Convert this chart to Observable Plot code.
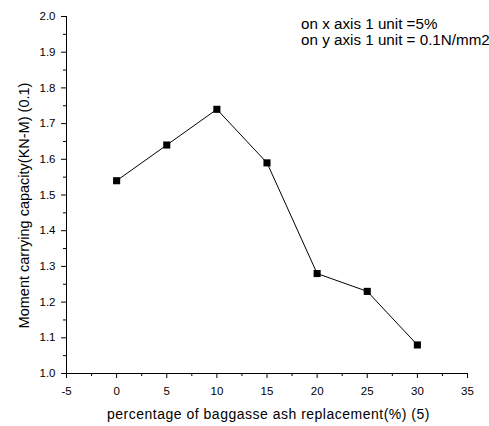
<!DOCTYPE html>
<html>
<head>
<meta charset="utf-8">
<script src="https://cdn.jsdelivr.net/npm/d3@7"></script>
<script src="https://cdn.jsdelivr.net/npm/@observablehq/plot@0.6"></script>
<style>
  html, body { margin: 0; padding: 0; background: #fff; }
  svg { font-family: Arial, "Liberation Sans", sans-serif; }
</style>
</head>
<body>
<div id="chart"></div>
<script>
const replacement = [0, 5, 10, 15, 20, 25, 30];
const capacity = [1.54, 1.64, 1.74, 1.59, 1.28, 1.23, 1.08];
const xTicks = [-5, 0, 5, 10, 15, 20, 25, 30, 35];
const xMinor = [-2.5, 2.5, 7.5, 12.5, 17.5, 22.5, 27.5, 32.5];
const yTicks = [1.0, 1.1, 1.2, 1.3, 1.4, 1.5, 1.6, 1.7, 1.8, 1.9, 2.0];
const yMinor = [1.05, 1.15, 1.25, 1.35, 1.45, 1.55, 1.65, 1.75, 1.85, 1.95];
const notes = ["on x axis 1 unit =5%", "on y axis 1 unit = 0.1N/mm2"];
const xLabel = "percentage of baggasse ash replacement(%) (5)";
const yLabel = "Moment carrying capacity(KN-M) (0.1)";

const data = replacement.map((x, i) => ({x, y: capacity[i]}));

const chart = Plot.plot({
  width: 489,
  height: 426,
  marginLeft: 66,
  marginRight: 22,
  marginTop: 16,
  marginBottom: 53,
  style: {fontFamily: "Arial, 'Liberation Sans', sans-serif", fontSize: "11px", color: "#000", background: "#fff"},
  x: {domain: [-5, 35]},
  y: {domain: [1.0, 2.0]},
  marks: [
    Plot.axisX({ticks: xTicks, tickSize: 5, tickPadding: 8, tickFormat: d => String(d), fontSize: 11.5, label: null}),
    Plot.axisX({ticks: xMinor, tickSize: 3, text: null, label: null}),
    Plot.axisY({ticks: yTicks, tickSize: 5, tickPadding: 6, tickFormat: d => d.toFixed(1), fontSize: 11.5, label: null}),
    Plot.axisY({ticks: yMinor, tickSize: 3, text: null, label: null}),
    Plot.ruleY([1.0]),
    Plot.ruleX([-5]),
    Plot.line(data, {x: "x", y: "y", stroke: "#000", strokeWidth: 1}),
    Plot.dot(data, {x: "x", y: "y", symbol: "square", r: 4, fill: "#000", stroke: "none"}),
    Plot.text([notes.join("\n")], {x: 18.4, y: 2.0, dy: 1, text: d => d, textAnchor: "start", lineAnchor: "top", fontSize: 15.2, lineHeight: 1.07, fill: "#000"}),
    Plot.text([xLabel], {frameAnchor: "bottom", textAnchor: "middle", dx: 1.5, dy: 41, text: d => d, lineAnchor: "middle", fontSize: 14, fill: "#000"}),
    Plot.text([yLabel], {frameAnchor: "left", textAnchor: "middle", rotate: -90, dx: -42, dy: 10.5, text: d => d, lineAnchor: "middle", fontSize: 14.5, fill: "#000"})
  ]
});
d3.select(chart).selectAll("text").filter(function() { return this.textContent === xLabel; }).style("letter-spacing", "0.5px");
document.getElementById("chart").appendChild(chart);
</script>
</body>
</html>
